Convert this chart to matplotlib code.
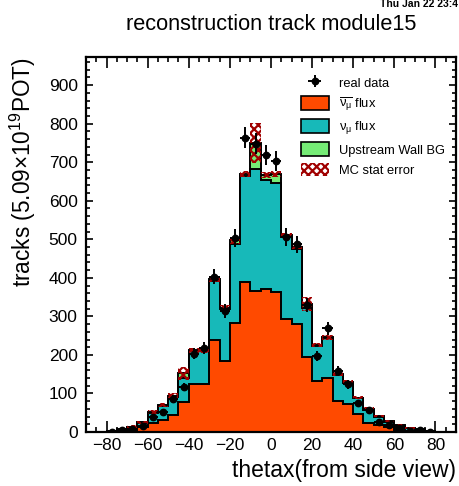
import numpy as np
import matplotlib
matplotlib.use("Agg")
import matplotlib.pyplot as plt
from matplotlib.patches import Patch
from matplotlib.ticker import MultipleLocator

plt.rcParams["font.family"] = ["Liberation Sans", "DejaVu Sans"]
plt.rcParams["mathtext.fontset"] = "custom"
plt.rcParams["mathtext.rm"] = "Liberation Sans"
plt.rcParams["mathtext.it"] = "Liberation Sans"
plt.rcParams["mathtext.bf"] = "Liberation Sans:bold"
plt.rcParams["hatch.linewidth"] = 1.6

# thetax binning: 36 bins of 5 degrees from -90 to 90
bin_edges = np.arange(-90, 95, 5)

# MC contributions per bin (stacked: anti-numu, numu, upstream wall background)
numubar_flux = [0, 0, 0.5, 1, 4, 12, 24, 31, 44, 79, 124, 125, 239, 183, 282, 390,
                367, 372, 362, 293, 281, 194, 133, 141, 80, 73, 48, 24, 18, 12, 5,
                2, 1, 0.5, 0, 0]
numu_flux = [0, 0, 1.5, 5, 9, 11, 25, 37, 47, 60, 85, 84, 154, 136, 206, 275,
             315, 282, 285, 214, 195, 127, 90, 102, 68, 54, 39, 34, 22, 15, 11,
             8, 5, 1.5, 0.5, 0]
wall_bg = [0, 0, 0.5, 1, 1, 2, 2, 2, 3, 13, 3, 3, 4, 3, 9, 4,
           67, 13, 23, 4, 4, 11, 3, 3, 2, 2, 2, 2, 2, 2, 2,
           1, 1, 0.5, 0, 0]
mc_stat_err = [0, 0, 1, 2, 3, 4, 5, 5, 6, 16, 6, 6, 7, 7, 8, 8,
               52, 7, 8, 6, 6, 17, 5, 6, 5, 5, 4, 4, 3, 3, 2,
               2, 2, 1, 0, 0]

# Observed track counts per bin
real_data = [0, 0, 1, 4, 9, 16, 38, 52, 86, 116, 203, 218, 403, 314, 503, 764,
             748, 719, 703, 506, 487, 330, 197, 269, 159, 124, 74, 57, 27, 18, 10,
             3, 4, 1, 0, 0]

c_numubar = "#ff4a00"
c_numu = "#17b9b9"
c_wall = "#76ec76"
c_hatch = "#a00000"

fig = plt.figure(figsize=(4.6, 4.86), dpi=100)
ax = fig.add_axes([86 / 460, 1 - 432 / 486, 370 / 460, 375 / 486])
ax.set_axisbelow(True)

s_bar = np.array(numubar_flux, dtype=float)
s_nu = s_bar + np.array(numu_flux, dtype=float)
s_all = s_nu + np.array(wall_bg, dtype=float)

for vals, col in [(s_all, c_wall), (s_nu, c_numu), (s_bar, c_numubar)]:
    ax.stairs(vals, bin_edges, baseline=0, fill=True, facecolor=col,
              edgecolor="black", linewidth=1.4, zorder=2)

err = np.array(mc_stat_err, dtype=float)
centers = 0.5 * (bin_edges[:-1] + bin_edges[1:])
ax.bar(centers, 2 * err, bottom=s_all - err, width=5, facecolor="none",
       edgecolor=c_hatch, hatch="xxxx", linewidth=0, zorder=3)

obs = np.array(real_data, dtype=float)
keep = obs > 0
eb = ax.errorbar(centers[keep], obs[keep], xerr=2.5, yerr=np.sqrt(obs[keep]),
                 fmt="o", color="black", markersize=4.6, elinewidth=1.4,
                 capsize=0, zorder=4, label="real data")

ax.set_xlim(-90, 90)
ax.set_ylim(0, 973)

ax.xaxis.set_major_locator(MultipleLocator(20))
ax.xaxis.set_minor_locator(MultipleLocator(5))
ax.yaxis.set_major_locator(MultipleLocator(100))
ax.yaxis.set_minor_locator(MultipleLocator(20))
ax.tick_params(axis="x", which="both", direction="in", top=True, bottom=True,
               labelsize=12.5, pad=4, width=1.2)
ax.tick_params(axis="x", which="major", length=7.6)
ax.tick_params(axis="x", which="minor", length=3.8)
ax.tick_params(axis="y", which="both", direction="in", left=True, right=True,
               labelsize=12.5, pad=6, width=1.2)
ax.tick_params(axis="y", which="major", length=5.2)
ax.tick_params(axis="y", which="minor", length=2.6)
for sp in ax.spines.values():
    sp.set_linewidth(1.6)

ax.set_xlabel("thetax(from side view)", fontsize=16.5, loc="right", labelpad=5)
ax.set_ylabel(r"tracks (5.09$\times$10$^{19}$POT)", fontsize=16.3, loc="top",
              labelpad=8)

fig.text(271 / 460, 1 - 30 / 486, "reconstruction track module15",
         fontsize=15.7, ha="center", va="baseline")
fig.text(458 / 460, 1 - 7 / 486, "Thu Jan 22 23:4", fontsize=7.5,
         fontweight="bold", ha="right", va="baseline")

handles = [
    eb,
    Patch(facecolor=c_numubar, edgecolor="black", linewidth=1.2),
    Patch(facecolor=c_numu, edgecolor="black", linewidth=1.2),
    Patch(facecolor=c_wall, edgecolor="black", linewidth=1.2),
    Patch(facecolor="none", edgecolor=c_hatch, hatch="xxxx", linewidth=0),
]
labels = ["real data", r"$\overline{\nu_{\mu}}$ flux", r"$\nu_{\mu}$ flux",
          "Upstream Wall BG", "MC stat error"]
ax.legend(handles, labels, loc="upper left", bbox_to_anchor=(0.58, 0.951),
          frameon=False, fontsize=9.3, borderpad=0, borderaxespad=0,
          handlelength=2.2, handleheight=1.25, labelspacing=0.47,
          handletextpad=0.78)

fig.savefig("out.png", dpi=100, facecolor="white")
